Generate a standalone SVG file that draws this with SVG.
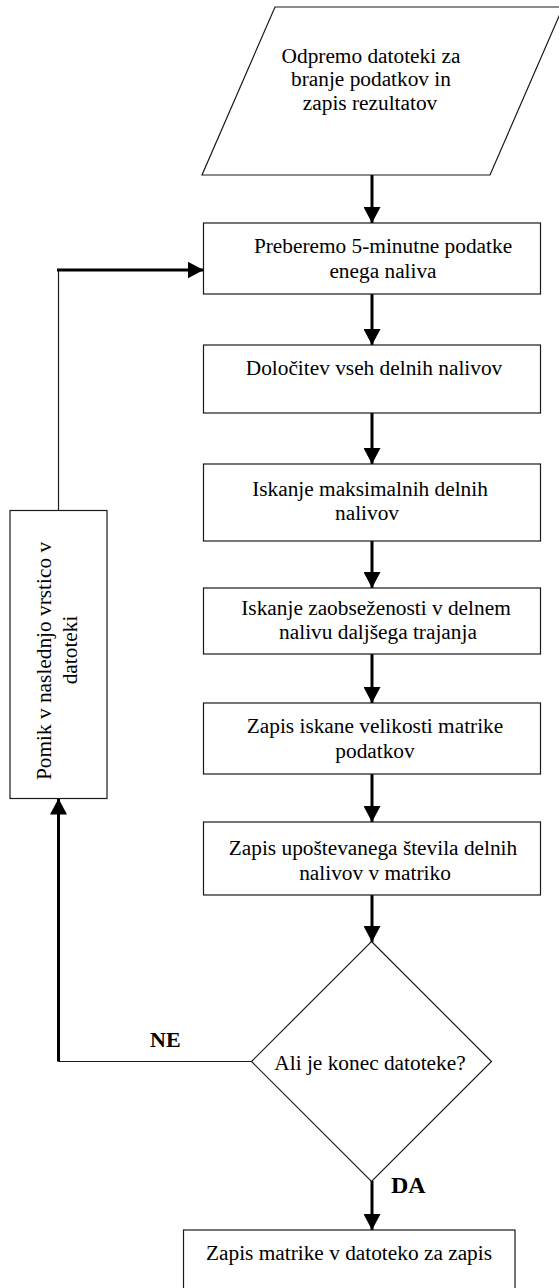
<svg xmlns="http://www.w3.org/2000/svg" width="559" height="1288" viewBox="0 0 559 1288">
  <style>
    .shape { fill: #ffffff; stroke: #1a1a1a; stroke-width: 1.2; }
    .t { font-family: "Liberation Serif", "Times New Roman", serif; font-size: 21.33px; fill: #000; text-anchor: middle; }
    .lbl { font-family: "Liberation Serif", "Times New Roman", serif; font-weight: bold; fill: #000; }
    .thick { fill: none; stroke: #000; stroke-width: 3; }
    .thin { fill: none; stroke: #1a1a1a; stroke-width: 1.2; }
  </style>
  <defs>
    <marker id="ah" viewBox="0 0 16 17" refX="16" refY="8.5" markerWidth="16" markerHeight="17" markerUnits="userSpaceOnUse" orient="auto">
      <path d="M0,0 L16,8.5 L0,17 Z" fill="#000"/>
    </marker>
  </defs>
  <rect width="559" height="1288" fill="#ffffff"/>

  <g id="connectors">
    <line class="thick" x1="372" y1="175" x2="372" y2="223" marker-end="url(#ah)"/>
    <line class="thick" x1="372" y1="294" x2="372" y2="345" marker-end="url(#ah)"/>
    <line class="thick" x1="372" y1="413" x2="372" y2="464" marker-end="url(#ah)"/>
    <line class="thick" x1="372" y1="541" x2="372" y2="588" marker-end="url(#ah)"/>
    <line class="thick" x1="372" y1="654" x2="372" y2="703" marker-end="url(#ah)"/>
    <line class="thick" x1="372" y1="774" x2="372" y2="822" marker-end="url(#ah)"/>
    <line class="thick" x1="372" y1="895" x2="372" y2="942" marker-end="url(#ah)"/>
    <line class="thick" x1="372" y1="1181" x2="372" y2="1230" marker-end="url(#ah)"/>
    <!-- NE loop -->
    <line class="thin" x1="251.5" y1="1061.5" x2="58.5" y2="1061.5"/>
    <line class="thick" x1="58.5" y1="1061.5" x2="58.5" y2="798.5" marker-end="url(#ah)"/>
    <line class="thin" x1="58.5" y1="510.5" x2="58.5" y2="270"/>
    <line class="thick" x1="57" y1="270" x2="203.5" y2="270" marker-end="url(#ah)"/>
  </g>

  <g id="n_start">
    <polygon class="shape" points="275,7 563,7 490,175 202,175"/>
    <text class="t" x="371" y="62.5">Odpremo datoteki za</text>
    <text class="t" x="371" y="86">branje podatkov in</text>
    <text class="t" x="370" y="109.5">zapis rezultatov</text>
  </g>

  <g id="n_read">
    <rect class="shape" x="203.5" y="223" width="337" height="71"/>
    <text class="t" x="383" y="253">Preberemo 5-minutne podatke</text>
    <text class="t" x="383" y="277.5">enega naliva</text>
  </g>

  <g id="n_dolocitev">
    <rect class="shape" x="203.5" y="345" width="337" height="68"/>
    <text class="t" x="374" y="375">Določitev vseh delnih nalivov</text>
  </g>

  <g id="n_maks">
    <rect class="shape" x="203.5" y="464" width="337" height="77"/>
    <text class="t" x="370" y="495.5">Iskanje maksimalnih delnih</text>
    <text class="t" x="367" y="520">nalivov</text>
  </g>

  <g id="n_zaob">
    <rect class="shape" x="203.5" y="588" width="337" height="66"/>
    <text class="t" x="376" y="615">Iskanje zaobseženosti v delnem</text>
    <text class="t" x="378" y="639">nalivu daljšega trajanja</text>
  </g>

  <g id="n_velikost">
    <rect class="shape" x="203.5" y="703" width="337" height="71"/>
    <text class="t" x="375" y="733">Zapis iskane velikosti matrike</text>
    <text class="t" x="375" y="757.5">podatkov</text>
  </g>

  <g id="n_stevilo">
    <rect class="shape" x="203.5" y="822" width="337" height="73"/>
    <text class="t" x="373" y="855">Zapis upoštevanega števila delnih</text>
    <text class="t" x="375" y="879.5">nalivov v matriko</text>
  </g>

  <g id="n_decision">
    <polygon class="shape" points="371.5,941.5 491.5,1061.5 371.5,1181.5 251.5,1061.5"/>
    <text class="t" x="370" y="1070">Ali je konec datoteke?</text>
  </g>

  <g id="n_pomik">
    <rect class="shape" x="10" y="510.5" width="97" height="288"/>
    <text class="t" transform="translate(51,661) rotate(-90)">Pomik v naslednjo vrstico v</text>
    <text class="t" transform="translate(77,650) rotate(-90)">datoteki</text>
  </g>

  <g id="n_end">
    <rect class="shape" x="183.5" y="1230" width="331.5" height="70"/>
    <text class="t" x="349" y="1260">Zapis matrike v datoteko za zapis</text>
  </g>

  <g id="labels">
    <text class="lbl" x="150" y="1046.5" font-size="22px">NE</text>
    <text class="lbl" x="391" y="1193" font-size="24px">DA</text>
  </g>
</svg>
